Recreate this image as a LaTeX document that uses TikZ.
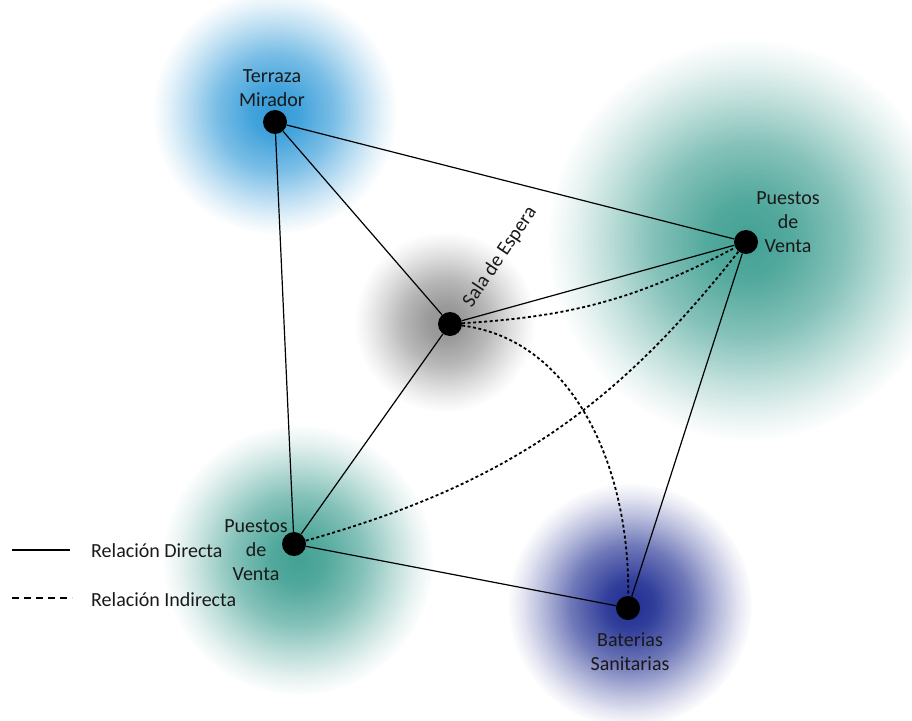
\documentclass[tikz,border=0pt]{standalone}
\usepackage{fontspec}
\setmainfont{Carlito}
\usetikzlibrary{fadings}
\pgfdeclareradialshading{glowshade}{\pgfpointorigin}{color(0bp)=(transparent!0); color(5bp)=(transparent!8); color(12bp)=(transparent!35); color(18bp)=(transparent!68); color(22bp)=(transparent!88); color(25bp)=(transparent!100); color(50bp)=(transparent!100)}
\tikzfading[name=glowfade, shading=glowshade]
\definecolor{gblue}{RGB}{40,150,215}
\definecolor{gteal}{RGB}{35,145,130}
\definecolor{ggray}{RGB}{120,120,120}
\definecolor{gdblue}{RGB}{20,35,140}
\begin{document}
\begin{tikzpicture}[x=1pt,y=-1pt,
  dot/.style={circle,fill=black,minimum size=24pt,inner sep=0pt},
  lbl/.style={font=\fontsize{20}{24}\selectfont,align=center,text=black!90},
  direct/.style={line width=1.2pt},
  indirect/.style={line width=1.8pt,dash pattern=on 3pt off 2.5pt},
  legdash/.style={line width=1.3pt,dash pattern=on 7pt off 5pt}]
\useasboundingbox[fill=white] (0,0) rectangle (912,720);
% glows
\fill[gteal,path fading=glowfade,opacity=0.85] (748,240) circle (200);
\fill[gblue,path fading=glowfade,opacity=0.95] (275,112) circle (122);
\fill[ggray,path fading=glowfade,opacity=0.8] (445,322) circle (90);
\fill[gteal,path fading=glowfade,opacity=0.85] (298,560) circle (135);
\fill[gdblue,path fading=glowfade,opacity=0.95] (630,605) circle (122);
% nodes
\node[dot] (tm) at (275,122) {};
\node[dot] (pvr) at (746,242) {};
\node[dot] (se) at (450,324) {};
\node[dot] (pvl) at (294,544) {};
\node[dot] (bs) at (628,608) {};
% direct
\draw[direct] (tm) -- (pvr);
\draw[direct] (tm) -- (se);
\draw[direct] (tm) -- (pvl);
\draw[direct] (se) -- (pvr);
\draw[direct] (se) -- (pvl);
\draw[direct] (pvl) -- (bs);
\draw[direct] (bs) -- (pvr);
% indirect
\draw[indirect] (se) to[bend right=12] (pvr);
\draw[indirect] (pvl) to[bend right=18] (pvr);
\draw[indirect] (se) .. controls (575,340) and (630,470) .. (bs);
% labels
\node[lbl] at (272,88) {Terraza\\Mirador};
\node[lbl] at (788,222) {Puestos\\de\\Venta};
\node[lbl] at (256,550) {Puestos\\de\\Venta};
\node[lbl] at (630,652) {Baterias\\Sanitarias};
\node[lbl,rotate=56] at (500,257) {Sala de Espera};
% legend
\coordinate (l1a) at (12,550); \coordinate (l1b) at (70,550);
\coordinate (l2a) at (12,598); \coordinate (l2b) at (72,598);
\draw[line width=1.3pt] (l1a) -- (l1b);
\draw[legdash] (l2a) -- (l2b);
\node[lbl,anchor=west,inner sep=0pt] at (91,551) {Relación Directa};
\node[lbl,anchor=west,inner sep=0pt] at (91,600) {Relación Indirecta};
\end{tikzpicture}
\end{document}
